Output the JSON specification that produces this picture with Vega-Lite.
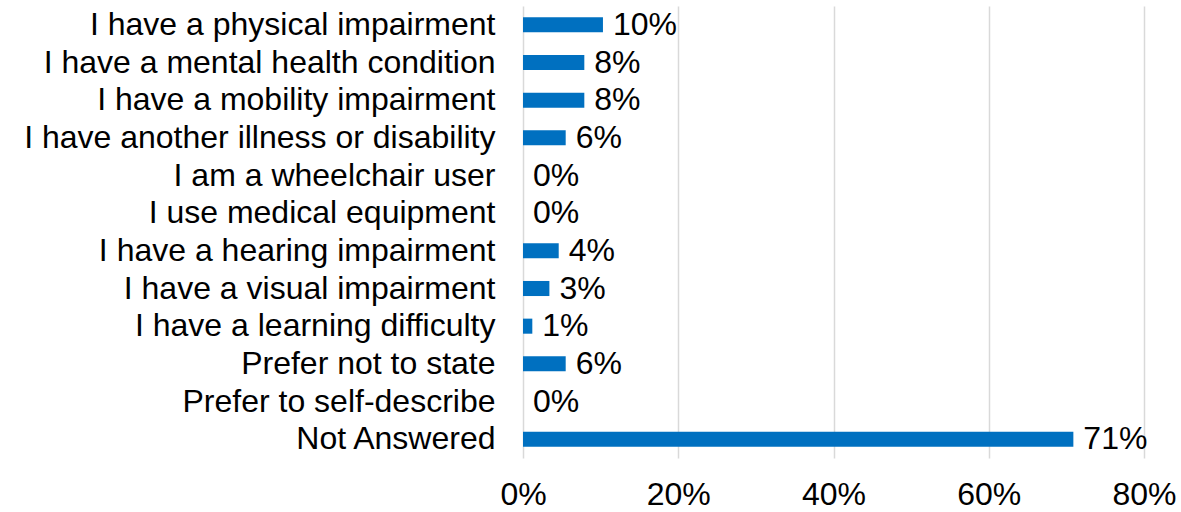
{
  "$schema": "https://vega.github.io/schema/vega-lite/v6.json",
  "width": 621,
  "height": 452,
  "autosize": {"type": "none"},
  "padding": {"left": 523, "top": 6, "right": 37, "bottom": 54},
  "background": "white",
  "config": {"view": {"stroke": null}, "font": "Liberation Sans"},
  "data": {"values": [
    {"category": "I have a physical impairment", "value": 10.3, "label": "10%"},
    {"category": "I have a mental health condition", "value": 7.9, "label": "8%"},
    {"category": "I have a mobility impairment", "value": 7.9, "label": "8%"},
    {"category": "I have another illness or disability", "value": 5.5, "label": "6%"},
    {"category": "I am a wheelchair user", "value": 0, "label": "0%"},
    {"category": "I use medical equipment", "value": 0, "label": "0%"},
    {"category": "I have a hearing impairment", "value": 4.6, "label": "4%"},
    {"category": "I have a visual impairment", "value": 3.4, "label": "3%"},
    {"category": "I have a learning difficulty", "value": 1.2, "label": "1%"},
    {"category": "Prefer not to state", "value": 5.5, "label": "6%"},
    {"category": "Prefer to self-describe", "value": 0, "label": "0%"},
    {"category": "Not Answered", "value": 70.9, "label": "71%"}
  ]},
  "encoding": {
    "y": {"field": "category", "type": "nominal", "sort": null,
      "scale": {"paddingInner": 0.6, "paddingOuter": 0.3},
      "axis": {"title": null, "ticks": false, "domain": false, "labelFontSize": 32, "labelColor": "#000000", "labelPadding": 28, "labelLimit": 700,
        "labelExpr": "indexof(['I have a mental health condition', 'I have another illness or disability', 'I use medical equipment', 'Prefer to self-describe'], datum.value) >= 0 ? datum.value + '\u2004' : datum.value"}},
    "x": {"field": "value", "type": "quantitative",
      "scale": {"domain": [0, 80], "nice": false},
      "axis": {"title": null, "values": [0, 20, 40, 60, 80], "labelExpr": "datum.value + '%'", "labelFlush": false, "ticks": false, "domain": false, "labelFontSize": 32, "labelColor": "#000000", "labelPadding": 21, "gridColor": "#d9d9d9", "gridWidth": 1.5}}
  },
  "layer": [
    {"mark": {"type": "bar", "color": "#0070c0"}},
    {"mark": {"type": "text", "align": "left", "dx": 10, "fontSize": 32, "color": "#000000", "baseline": "middle"},
     "encoding": {"text": {"field": "label"}}}
  ]
}
